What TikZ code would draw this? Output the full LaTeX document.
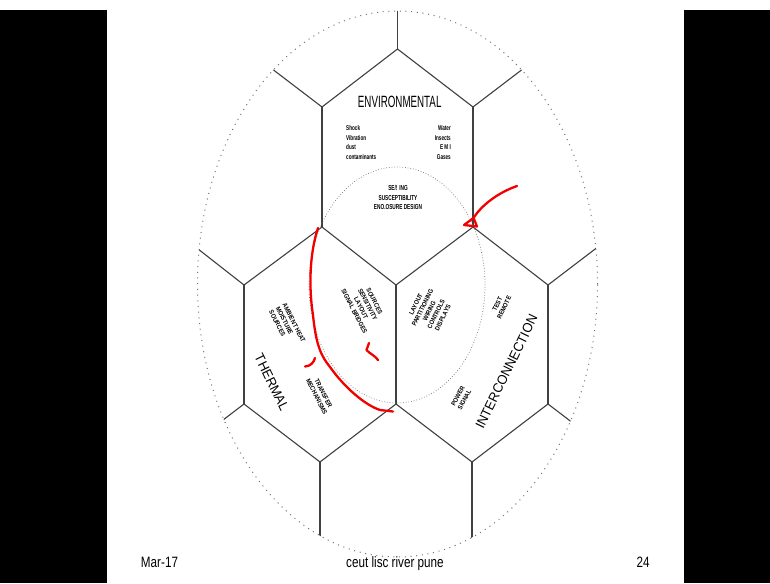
\documentclass[tikz,border=0pt]{standalone}
\usepackage{fontspec}
\setmainfont{Liberation Sans}
\newfontfamily\envfont[FakeStretch=0.6]{Liberation Sans}
\newfontfamily\hfont[FakeStretch=0.66]{Liberation Sans}
\newfontfamily\rfont[FakeStretch=0.88]{Liberation Sans}
\newfontfamily\bigfont[FakeStretch=0.95]{Liberation Sans}
\newfontfamily\ffont[FakeStretch=0.78]{Liberation Sans}
\begin{document}
\begin{tikzpicture}[x=1pt,y=-1pt,
  hexline/.style={draw=black!75, line width=1.1pt},
  outerdots/.style={draw=black!55, line width=1pt, dash pattern=on 1pt off 4.7pt},
  innerdots/.style={draw=black!55, line width=0.7pt, dash pattern=on 0.7pt off 2pt},
  redink/.style={draw=red!95!black, line width=2.3pt, line cap=round, line join=round},
  envtxt/.style={font=\envfont\fontsize{16.3}{18}\selectfont, inner sep=0pt},
  smalltxt/.style={font=\hfont\bfseries\fontsize{7}{9.7}\selectfont, inner sep=0pt},
  rottxt/.style={font=\rfont\bfseries\fontsize{6.5}{7.5}\selectfont, inner sep=0pt, align=center},
  bigrot/.style={font=\bigfont\fontsize{13.5}{15}\selectfont, inner sep=0pt},
  foot/.style={font=\ffont\fontsize{15}{17}\selectfont, inner sep=0pt, anchor=base}
]
\useasboundingbox (0,0) rectangle (770,583);
\fill[white] (0,0) rectangle (770,583);
\fill[black] (0,10) rectangle (107,583);
\fill[black] (684,10) rectangle (770,583);

% hexagon grid vertices
\coordinate (t0) at (397.5,-80);
\coordinate (a1) at (246,49);
\coordinate (a2) at (397.5,49);
\coordinate (a3) at (549,49);
\coordinate (b1) at (322,107);
\coordinate (b2) at (473,107);
\coordinate (c0) at (170,227);
\coordinate (c1) at (322,227);
\coordinate (c2) at (473,227);
\coordinate (c3) at (624,227);
\coordinate (d1) at (244,285);
\coordinate (d2) at (396,285);
\coordinate (d3) at (548,285);
\coordinate (e1) at (244,404);
\coordinate (e2) at (396,404);
\coordinate (e3) at (548,404);
\coordinate (f0) at (168,462);
\coordinate (f1) at (320,462);
\coordinate (f2) at (472,462);
\coordinate (f3) at (624,462);
\coordinate (g1) at (320,640);
\coordinate (g2) at (472,640);

\begin{scope}
  \clip (397.5,284) ellipse [x radius=200pt, y radius=273pt];
  \draw[hexline] (t0) -- (a2);
  \draw[hexline] (a1) -- (b1) -- (a2) -- (b2) -- (a3);
  \draw[hexline] (b1) -- (c1);
  \draw[hexline] (b2) -- (c2);
  \draw[hexline] (c0) -- (d1) -- (c1) -- (d2) -- (c2) -- (d3) -- (c3);
  \draw[hexline] (d1) -- (e1);
  \draw[hexline] (d2) -- (e2);
  \draw[hexline] (d3) -- (e3);
  \draw[hexline] (f0) -- (e1) -- (f1) -- (e2) -- (f2) -- (e3) -- (f3);
  \draw[hexline] (f1) -- (g1);
  \draw[hexline] (f2) -- (g2);
\end{scope}

\draw[outerdots] (397.5,284) ellipse [x radius=200pt, y radius=273pt];
\draw[innerdots] (397,285) ellipse [x radius=88pt, y radius=118pt];

% texts
\node[envtxt] (env) at (399.7,102) {ENVIRONMENTAL};
\node[smalltxt, anchor=west, align=left] (envl) at (346,142.6) {Shock\\Vibration\\dust\\contaminants};
\node[smalltxt, anchor=east, align=right] (envr) at (451,142.6) {Water\\Insects\\E M I\\Gases};
\node[smalltxt, align=center, font=\hfont\bfseries\fontsize{7.2}{9.7}\selectfont] (seal) at (398,197.5) {SE/! ING\\SUSCEPTIBILITY\\ENO.OSURE DESIGN};

\node[rottxt, rotate=-63, align=left] (amb) at (287.3,326.4) {AMBIENT HEAT\\MOISTURE\\SOURCES};
\node[rottxt, rotate=-63] (trans) at (320,395) {TRANSFER\\MECHANISMS};
\node[rottxt, rotate=-63] (src) at (364.4,306.3) {SOURCES\\SENSITIVITY\\LAYOUT\\SIGNAL BRIDGES};
\node[rottxt, rotate=64] (lay) at (429.3,311) {LAYOUT\\PARTITIONING\\WIRING\\CONTROLS\\DISPLAYS};
\node[rottxt, rotate=64] (test) at (500.8,305.8) {TEST\\REMOTE};
\node[rottxt, rotate=62] (pow) at (461.2,398) {POWER\\SIGNAL};
\node[bigrot, rotate=-64] (therm) at (271.7,382.5) {THERMAL};
\node[bigrot, rotate=64] (inter) at (506.5,371.5) {INTERCONNECTION};

\node[foot] (mar) at (159.5,567) {Mar-17};
\node[foot] (org) at (395,567) {ceut lisc river pune};
\node[foot] (pg) at (643,567) {24};

% red annotations
\draw[redink] (517,186) .. controls (497,193) and (481,206) .. (473.5,218) -- (464,225) -- (477,226.5) -- (474,219);
\draw[redink] (318,228) .. controls (309,255) and (309,290) .. (313,315)
  .. controls (316,345) and (321,356) .. (330,367)
  .. controls (345,388) and (365,405) .. (380,410) -- (393,411.5);
\draw[redink] (315,358) .. controls (313.5,363) and (310.5,366) .. (305,366.5);
\draw[redink] (369,343) -- (366.5,350) .. controls (370,354) and (375,355.5) .. (378,360);
\end{tikzpicture}
\end{document}
